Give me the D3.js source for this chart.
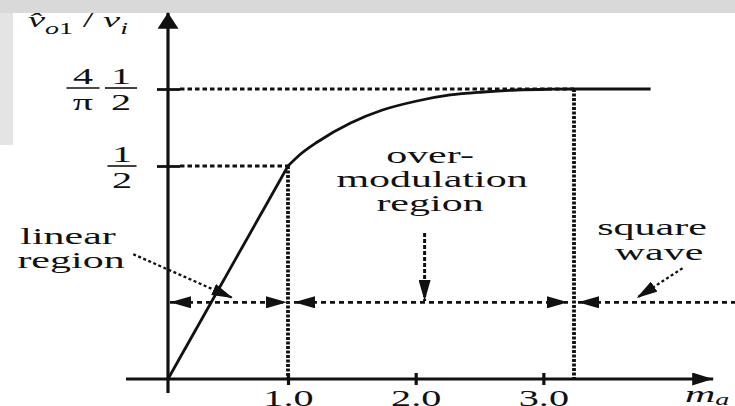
<!DOCTYPE html>
<html>
<head>
<meta charset="utf-8">
<script src="https://cdn.jsdelivr.net/npm/d3@7"></script>
<style>
body { margin: 0; background: #fff; }
svg { display: block; font-family: "Liberation Serif", "DejaVu Serif", serif; }
</style>
</head>
<body>
<svg id="chart" width="735" height="406"></svg>
<script>
// fundamental output vs modulation index
var maLinear = [0, 1.0];
var vLinear = [0, 0.5];
var maOver = [1.0, 1.09, 1.23, 1.49, 1.74, 2.01, 2.27, 2.53, 2.79, 3.05, 3.24, 3.84];
var vOver = [0.5, 0.5195, 0.5426, 0.5763, 0.5993, 0.6153, 0.626, 0.6313, 0.6348, 0.6362, 0.6366, 0.6366];
var xTicks = [1.0, 2.0, 3.0];
var xTickLabels = ["1.0", "2.0", "3.0"];
var maKnee = 1.0, maEdge = 3.24;
var vKnee = 0.5, vPeak = 0.6366;
var regionLevel = 0.18;

var SX = 1.75;          // the scanned figure is stretched sideways
var ink = "#111";
var svg = d3.select("#chart");

// piecewise scales, the drawing is schematic
var x = d3.scaleLinear().domain([0, 1, 3.24]).range([168, 288, 574]);
var y = d3.scaleLinear().domain([0, 0.5, 0.6366]).range([379, 166, 89]);

// faded scan background
svg.append("rect").attr("x", 0).attr("y", 0).attr("width", 735).attr("height", 13).style("fill", "#d9d9d9");
svg.append("rect").attr("x", 0).attr("y", 13).attr("width", 13).attr("height", 132).style("fill", "#e4e4e4");

var defs = svg.append("defs");
function addMarker(id, len, wid) {
  defs.append("marker").attr("id", id)
    .attr("markerUnits", "userSpaceOnUse")
    .attr("viewBox", "0 0 " + len + " " + wid)
    .attr("refX", len).attr("refY", wid / 2)
    .attr("markerWidth", len).attr("markerHeight", wid)
    .attr("orient", "auto-start-reverse")
    .append("path").attr("d", "M0,0L" + len + "," + (wid / 2) + "L0," + wid + "Z")
    .style("fill", ink);
}
addMarker("xhead", 21, 13);
addMarker("yhead", 16, 21);
addMarker("head", 21, 12);

function stext(px, py, str, size, anchor) {
  var g = svg.append("g").attr("transform", "translate(" + px + "," + py + ") scale(" + SX + ",1)");
  return g.append("text").attr("text-anchor", anchor || "middle")
    .style("font-size", size + "px").style("fill", ink).text(str);
}

function dline(x1, y1, x2, y2, dash, w) {
  return svg.append("line").attr("x1", x1).attr("y1", y1).attr("x2", x2).attr("y2", y2)
    .style("stroke", ink).style("stroke-width", w).style("stroke-dasharray", dash);
}

// dotted guides
dline(180, y(vPeak), x(maEdge), y(vPeak), "4.5,3", 3);
dline(180, y(vKnee), x(maKnee), y(vKnee), "4.5,3", 3);
dline(x(maKnee), y(vKnee), x(maKnee), y(0), "3,1.5", 3.8);
dline(x(maEdge), y(vPeak), x(maEdge), y(0), "3,1.5", 3.8);

// axes
svg.append("line").attr("x1", x(-0.35)).attr("y1", y(0)).attr("x2", x(4.33)).attr("y2", y(0))
  .style("stroke", ink).style("stroke-width", 2.8).attr("marker-end", "url(#xhead)");
svg.append("line").attr("x1", x(0)).attr("y1", y(-0.033)).attr("x2", x(0)).attr("y2", y(0.772))
  .style("stroke", ink).style("stroke-width", 3.2).attr("marker-end", "url(#yhead)");

var xAxis = svg.append("g").attr("transform", "translate(0," + (y(0) - 6) + ")")
  .call(d3.axisBottom(x).tickValues(xTicks).tickSize(12).tickPadding(5)
    .tickFormat(function(d, i) { return xTickLabels[i]; }));
xAxis.select(".domain").remove();
xAxis.selectAll(".tick line").style("stroke", ink).style("stroke-width", 3.2);
xAxis.selectAll(".tick text").attr("transform", "scale(" + SX + ",1)")
  .style("font-size", "23px").style("font-family", "Liberation Serif").style("fill", ink);

var yAxis = svg.append("g").attr("transform", "translate(180,0)")
  .call(d3.axisLeft(y).tickValues([vKnee, vPeak]).tickSize(23).tickFormat(""));
yAxis.select(".domain").remove();
yAxis.selectAll(".tick line").style("stroke", ink).style("stroke-width", 2.8);

// curve
var line = d3.line().x(function(d) { return x(d[0]); }).y(function(d) { return y(d[1]); });
svg.append("path").datum(d3.zip(maLinear, vLinear)).attr("d", line)
  .style("fill", "none").style("stroke", ink).style("stroke-width", 2.8);
svg.append("path").datum(d3.zip(maOver, vOver)).attr("d", line.curve(d3.curveMonotoneX))
  .style("fill", "none").style("stroke", ink).style("stroke-width", 2.8);

// region arrows
var ry = y(regionLevel);
dline(x(0) + 2, ry, x(maKnee) - 1, ry, "5,4", 2.8)
  .attr("marker-start", "url(#head)").attr("marker-end", "url(#head)");
dline(x(maKnee) + 6, ry, x(maEdge) - 6, ry, "5,4", 2.8)
  .attr("marker-start", "url(#head)").attr("marker-end", "url(#head)");
dline(x(maEdge) + 4, ry, 735, ry, "5,4", 2.8).attr("marker-start", "url(#head)");
dline(x(2.07), y(0.343), x(2.07), y(0.183), "4,2", 3).attr("marker-end", "url(#head)");
dline(x(-0.29), y(0.293), x(0.54), y(0.19), "3,2.5", 2.3).attr("marker-end", "url(#head)");
dline(x(4.09), y(0.26), x(3.73), y(0.19), "3,2.5", 2.3).attr("marker-end", "url(#head)");

// annotations
stext(430, 163, "over-", 24);
stext(432, 187, "modulation", 24);
stext(430, 211, "region", 24);
stext(68, 244, "linear", 24);
stext(71, 268, "region", 24);
stext(652, 235, "square", 24);
stext(659, 260, "wave", 24);

// y tick labels as fractions
function fraction(cx, yBar, num, den, w) {
  stext(cx, yBar - 4, num, 23);
  stext(cx, yBar + 22, den, 23);
  svg.append("line").attr("x1", cx - w / 2).attr("x2", cx + w / 2).attr("y1", yBar).attr("y2", yBar)
    .style("stroke", ink).style("stroke-width", 1.6);
}
fraction(83, y(vPeak) - 1, "4", "\u03c0", 33);
fraction(121, y(vPeak) - 1, "1", "2", 32);
fraction(122, y(vKnee), "1", "2", 29);

// axis titles
var yl = svg.append("g").attr("transform", "translate(28,27) scale(" + SX + ",1)")
  .append("text").style("fill", ink).style("font-size", "22px");
yl.append("tspan").style("font-style", "italic").text("v\u0302");
yl.append("tspan").attr("dy", 7).style("font-size", "16px").style("font-style", "italic").text("o");
yl.append("tspan").style("font-size", "16px").text("1");
yl.append("tspan").attr("dy", -7).text(" / ");
yl.append("tspan").style("font-style", "italic").text("v");
yl.append("tspan").attr("dy", 7).style("font-size", "16px").style("font-style", "italic").text("i");

var xl = svg.append("g").attr("transform", "translate(685,402) scale(" + SX + ",1)")
  .append("text").style("fill", ink).style("font-size", "24px").style("font-style", "italic");
xl.append("tspan").text("m");
xl.append("tspan").attr("dy", 3).style("font-size", "16px").text("a");
</script>
</body>
</html>
